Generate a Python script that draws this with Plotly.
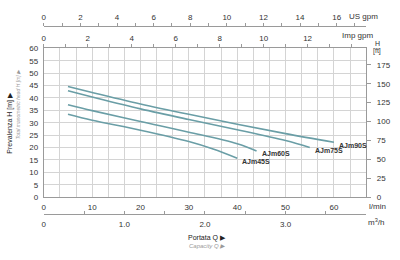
import plotly.graph_objects as go

# ---- data (Q in l/min, H in m) ----
q_90 = [5, 10, 20, 30, 40, 50, 60]
h_90 = [44.6, 42.2, 37.6, 33.4, 29.4, 25.6, 22.1]
q_75 = [5, 10, 20, 30, 40, 50, 55]
h_75 = [42.9, 40.4, 35.6, 31.3, 27.2, 22.8, 20.0]
q_60 = [5, 10, 20, 30, 40, 44]
h_60 = [37.3, 34.9, 30.5, 26.2, 21.5, 18.6]
q_45 = [5, 10, 20, 30, 35, 40]
h_45 = [33.4, 31.0, 27.0, 22.4, 19.4, 15.7]
names = ["AJm90S", "AJm75S", "AJm60S", "AJm45S"]

lmin_ticks = [0, 10, 20, 30, 40, 50, 60]
m_ticks = list(range(0, 61, 5))
ft_ticks = list(range(0, 176, 25))
imp_ticks = [0, 2, 4, 6, 8, 10, 12]
us_ticks = [0, 2, 4, 6, 8, 10, 12, 14, 16]
m3h_ticks = [0, 1, 2, 3]
m3h_text = ["0", "1.0", "2.0", "3.0"]

# conversions
L_PER_M3H = 1000 / 60
L_PER_IMP = 4.54609
L_PER_US = 3.78541
FT_PER_M = 3.28084

q_max = 4 * L_PER_M3H
h_max = 60

W, H = 400, 260
x0, x1 = 42 / W, 366 / W
y0, y1 = 60 / H, 214 / H

curve_color = "#6a9ea6"
grid_color = "#d4d4d4"
border_color = "#9a9a9a"
txt = "#333333"
font_fam = "Liberation Sans, Arial, sans-serif"

fig = go.Figure()
for q, h, n in zip([q_90, q_75, q_60, q_45], [h_90, h_75, h_60, h_45], names):
    fig.add_trace(go.Scatter(x=q, y=h, mode="lines", line=dict(color=curve_color, width=1.6, shape="spline"),
                             name=n, showlegend=False, hoverinfo="skip"))
    fig.add_annotation(x=q[-1], y=h[-1], xref="x", yref="y", text="<b>%s</b>" % n, showarrow=False,
                       xanchor="left", yanchor="middle", xshift=3, yshift=-3,
                       font=dict(size=7, color=txt, family=font_fam))

# invisible traces to activate the extra (overlaying) axes
for xa, ya in [("x2", "y"), ("x3", "y"), ("x4", "y"), ("x", "y2")]:
    fig.add_trace(go.Scatter(x=[0], y=[0], xaxis=xa, yaxis=ya, mode="markers",
                             marker=dict(size=1, color="rgba(0,0,0,0)"), showlegend=False, hoverinfo="skip"))

tickfont = dict(size=8, color=txt, family=font_fam)

fig.update_layout(
    width=W, height=H, margin=dict(l=0, r=0, t=0, b=0),
    paper_bgcolor="white", plot_bgcolor="white",
    font=dict(family=font_fam, color=txt),
    xaxis=dict(domain=[x0, x1], range=[0, q_max], tickvals=lmin_ticks, ticks="", showgrid=True,
               gridcolor=grid_color, gridwidth=1, zeroline=False, showline=True, linecolor=border_color,
               linewidth=1, mirror=True, tickfont=tickfont, ticklabelstandoff=2,
               minor=dict(dtick=L_PER_M3H * 0.2, tick0=0, showgrid=True, gridcolor=grid_color, gridwidth=1)),
    yaxis=dict(domain=[y0, y1], range=[0, h_max], tickvals=m_ticks, ticks="", showgrid=True,
               gridcolor=grid_color, gridwidth=1, zeroline=False, showline=True, linecolor=border_color,
               linewidth=1, mirror=True, tickfont=tickfont, ticklabelstandoff=3),
    xaxis2=dict(overlaying="x", anchor="y", side="top", range=[0, q_max / L_PER_IMP], tickvals=imp_ticks,
                ticks="outside", ticklen=3, tickcolor=border_color, showgrid=False, zeroline=False,
                showline=False, tickfont=tickfont, ticklabelstandoff=0,
                minor=dict(dtick=1, tick0=0, ticks="outside", ticklen=3, tickcolor=border_color, showgrid=False)),
    xaxis3=dict(overlaying="x", anchor="free", position=(H - 218) / H, side="bottom",
                range=[0, 4], tickvals=m3h_ticks, ticktext=m3h_text,
                ticks="inside", ticklen=3, tickcolor=border_color, showgrid=False, zeroline=False,
                showline=True, linecolor=border_color, linewidth=1, tickfont=tickfont, ticklabelstandoff=2,
                minor=dict(dtick=0.5, tick0=0, ticks="inside", ticklen=3, tickcolor=border_color, showgrid=False)),
    xaxis4=dict(overlaying="x", anchor="free", position=(H - 23) / H, side="top",
                range=[0, q_max / L_PER_US], tickvals=us_ticks,
                ticks="outside", ticklen=3, tickcolor=border_color, showgrid=False, zeroline=False,
                showline=True, linecolor=border_color, linewidth=1, tickfont=tickfont, ticklabelstandoff=0,
                minor=dict(dtick=1, tick0=0, ticks="outside", ticklen=3, tickcolor=border_color, showgrid=False)),
    yaxis2=dict(overlaying="y", anchor="x", side="right", range=[0, h_max * FT_PER_M], tickvals=ft_ticks,
                ticks="outside", ticklen=4, tickcolor=border_color, showgrid=False, zeroline=False,
                showline=False, tickfont=tickfont, ticklabelstandoff=4),
)

ann = [
    dict(x=363, y=13, text="US gpm", size=8, color=txt),
    dict(x=357, y=33, text="Imp gpm", size=8, color=txt),
    dict(x=377, y=41, text="H", size=7, color=txt),
    dict(x=377, y=49, text="[ft]", size=7, color=txt),
    dict(x=377, y=210, text="l/min", size=8, color=txt),
    dict(x=376, y=226, text="m<sup>3</sup>/h", size=8, color=txt),
    dict(x=206, y=242, text="Portata Q \u25b6", size=7, color="#222222"),
    dict(x=206, y=251, text="<i>Capacity Q \u25b6</i>", size=6, color="#9a9a9a"),
]
for a in ann:
    fig.add_annotation(x=a["x"] / W, y=1 - a["y"] / H, xref="paper", yref="paper", text=a["text"],
                       showarrow=False, xanchor="center", yanchor="middle",
                       font=dict(size=a["size"], color=a["color"], family=font_fam))

fig.add_annotation(x=8 / W, y=1 - 123 / H, xref="paper", yref="paper", text="Prevalenza H [m] \u25b6",
                   textangle=-90, showarrow=False, xanchor="center", yanchor="middle",
                   font=dict(size=7, color="#222222", family=font_fam))
fig.add_annotation(x=16 / W, y=1 - 104 / H, xref="paper", yref="paper",
                   text="<i>Total manometric head H [m] \u25b6</i>",
                   textangle=-90, showarrow=False, xanchor="center", yanchor="middle",
                   font=dict(size=5, color="#9a9a9a", family=font_fam))

fig.write_html("out.html")
